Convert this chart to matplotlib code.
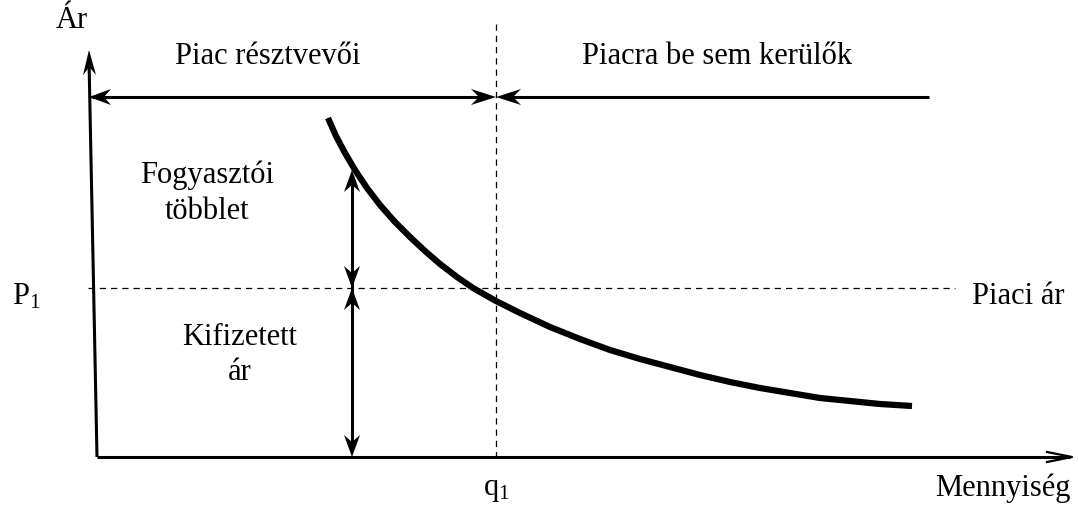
import matplotlib.pyplot as plt
import numpy as np

# keresleti gorbe (kepi koordinatak, y lefele no)
curve_x = [328, 336, 345, 355, 367, 380, 395, 410, 425, 440, 457, 473, 496,
           520, 550, 580, 610, 640, 670, 700, 730, 760, 790, 820, 850, 880, 912]
curve_y = [118, 136, 153, 170, 188, 205, 222, 237, 251, 264, 277, 288, 301,
           313, 327, 339, 350, 359, 367, 375, 382, 388, 393, 398, 401, 404, 406]

p1 = 288
q1 = 496
top_y = 97
x0 = 97
y0 = 457
arrow_x = 352
curve_top = 170

plt.rcParams['font.family'] = ['Liberation Serif', 'DejaVu Serif']
plt.rcParams['mathtext.fontset'] = 'custom'
plt.rcParams['mathtext.rm'] = 'Liberation Serif'
plt.rcParams['mathtext.it'] = 'Liberation Serif:italic'
fs = 22

fig = plt.figure(figsize=(10.78, 5.27), dpi=100)
ax = fig.add_axes([0, 0, 1, 1])
ax.set_xlim(0, 1078)
ax.set_ylim(527, 0)
ax.axis('off')


def head(tip, frm, length=22, half=8):
    # bevagott (stealth) nyilhegy
    tip = np.array(tip, float)
    d = tip - np.array(frm, float)
    d /= np.hypot(*d)
    n = np.array([-d[1], d[0]])
    back = tip - d * length
    notch = tip - d * length * 0.68
    pts = np.array([tip, back + n * half, notch, back - n * half])
    ax.fill(pts[:, 0], pts[:, 1], color='black', lw=0, zorder=5)


def seg(a, b, lw=2.2):
    ax.plot([a[0], b[0]], [a[1], b[1]], color='black', lw=lw, solid_capstyle='butt')


# tengelyek
seg((x0, y0), (89, 60))
head((89, 50), (x0, y0), length=25, half=6.5)
seg((x0, y0), (1070, y0))
ax.plot([1047, 1072, 1047], [y0 - 5, y0, y0 + 5], color='black', lw=1.6)

# szaggatott vonalak
ax.plot([88, 955], [p1, p1], ls=(0, (5, 4)), lw=0.9, color='black')
ax.plot([q1, q1], [24, y0], ls=(0, (5, 4)), lw=0.9, color='black')

# felso nyilak
seg((92, top_y), (490, top_y))
head((89, top_y), (q1, top_y))
head((q1, top_y), (89, top_y), length=25)
seg((502, top_y), (929, top_y))
head((q1, top_y), (929, top_y), length=25)

# fuggoleges kettos nyilak
seg((arrow_x, curve_top + 8), (arrow_x, y0 - 8))
head((arrow_x, curve_top), (arrow_x, p1))
head((arrow_x, p1), (arrow_x, curve_top))
head((arrow_x, p1), (arrow_x, y0))
head((arrow_x, y0), (arrow_x, p1))

# gorbe
ax.plot(curve_x, curve_y, lw=4.5, color='black', solid_capstyle='butt', solid_joinstyle='round')

# feliratok
ax.text(72, 20, 'Ár', fontsize=fs, ha='center', va='center')
ax.text(268, 57, 'Piac résztvevői', fontsize=fs, ha='center', va='center')
ax.text(717, 57, 'Piacra be sem kerülők', fontsize=fs, ha='center', va='center')
ax.text(207, 193, 'Fogyasztói\ntöbblet', fontsize=fs, ha='center', va='center', linespacing=1.3)
ax.text(240, 355, 'Kifizetett\nár', fontsize=fs, ha='center', va='center', linespacing=1.3)
ax.text(12, 297, r'P$_\mathrm{1}$', fontsize=fs, ha='left', va='center')
ax.text(1018, 297, 'Piaci ár', fontsize=fs, ha='center', va='center')
ax.text(q1, 490, r'q$_\mathrm{1}$', fontsize=fs, ha='center', va='center')
ax.text(1003, 488, 'Mennyiség', fontsize=fs, ha='center', va='center')

fig.savefig('out.png', dpi=100)
